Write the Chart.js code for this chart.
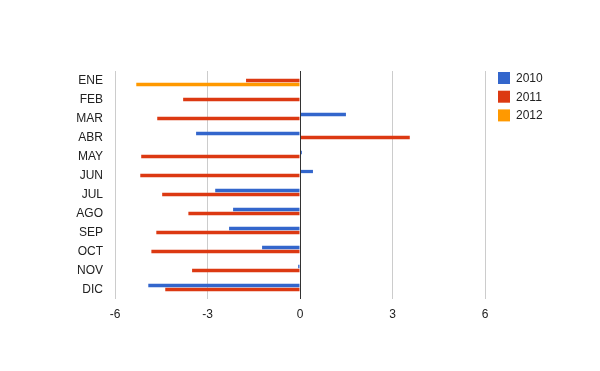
<!DOCTYPE html>
<html>
<head>
<meta charset="utf-8">
<script src="https://cdn.jsdelivr.net/npm/chart.js@4"></script>
<style>
  html, body { margin: 0; padding: 0; background: #fff; }
  #wrap { width: 600px; height: 371px; }
</style>
</head>
<body>
<div id="wrap"><canvas id="chart" width="600" height="371"></canvas></div>
<script>
// Months (Spanish) and yearly values
const months = ['ENE', 'FEB', 'MAR', 'ABR', 'MAY', 'JUN', 'JUL', 'AGO', 'SEP', 'OCT', 'NOV', 'DIC'];
const values2010 = [null, null, 1.49, -3.37, 0.06, 0.42, -2.75, -2.17, -2.30, -1.23, -0.06, -4.92];
const values2011 = [-1.75, -3.79, -4.63, 3.56, -5.15, -5.18, -4.47, -3.62, -4.66, -4.82, -3.50, -4.37];
const values2012 = [-5.31, null, null, null, null, null, null, null, null, null, null, null];
const xTicks = [-6, -3, 0, 3, 6];

const fontFamily = '"Liberation Sans", Arial, sans-serif';
const textColor = '#222';

// Dark baseline at zero, drawn over the bars
const zeroLine = {
    id: 'zeroLine',
    afterDatasetsDraw(chart) {
        const ctx = chart.ctx;
        const area = chart.chartArea;
        const x = Math.round(chart.scales.x.getPixelForValue(0)) + 0.5;
        ctx.save();
        ctx.strokeStyle = '#333';
        ctx.lineWidth = 1;
        ctx.beginPath();
        ctx.moveTo(x, area.top);
        ctx.lineTo(x, area.bottom);
        ctx.stroke();
        ctx.restore();
    }
};

// Legend drawn at the right, like the original
const sideLegend = {
    id: 'sideLegend',
    afterDraw(chart) {
        const ctx = chart.ctx;
        const x = 498;
        let y = 78;
        ctx.save();
        ctx.font = '12px ' + fontFamily;
        ctx.textBaseline = 'middle';
        ctx.textAlign = 'left';
        chart.data.datasets.forEach(ds => {
            ctx.fillStyle = ds.backgroundColor;
            ctx.fillRect(x, y - 6, 12, 12);
            ctx.fillStyle = textColor;
            ctx.fillText(ds.label, x + 18, y + 0.5);
            y += 18.7;
        });
        ctx.restore();
    }
};

new Chart(document.getElementById('chart'), {
    type: 'bar',
    data: {
        labels: months,
        datasets: [
            { label: '2010', data: values2010, backgroundColor: '#3366cc' },
            { label: '2011', data: values2011, backgroundColor: '#dc3912' },
            { label: '2012', data: values2012, backgroundColor: '#ff9900' }
        ]
    },
    options: {
        indexAxis: 'y',
        responsive: false,
        animation: false,
        categoryPercentage: 0.63,
        barPercentage: 0.82,
        layout: { padding: { left: 0, right: 115, top: 71, bottom: 0 } },
        scales: {
            x: {
                type: 'linear',
                min: -6,
                max: 6,
                afterBuildTicks: scale => { scale.ticks = xTicks.map(v => ({ value: v })); },
                afterFit: scale => { scale.height = 72; },
                border: { display: false },
                grid: {
                    drawTicks: false,
                    color: '#ccc',
                    lineWidth: 1
                },
                ticks: {
                    padding: 8,
                    color: textColor,
                    font: { family: fontFamily, size: 12 }
                }
            },
            y: {
                afterFit: scale => { scale.width = 115; },
                border: { display: false },
                grid: { display: false, drawTicks: false },
                ticks: {
                    padding: 12,
                    color: textColor,
                    font: { family: fontFamily, size: 12 }
                }
            }
        },
        plugins: {
            legend: { display: false },
            tooltip: { enabled: false }
        }
    },
    plugins: [zeroLine, sideLegend]
});
</script>
</body>
</html>
